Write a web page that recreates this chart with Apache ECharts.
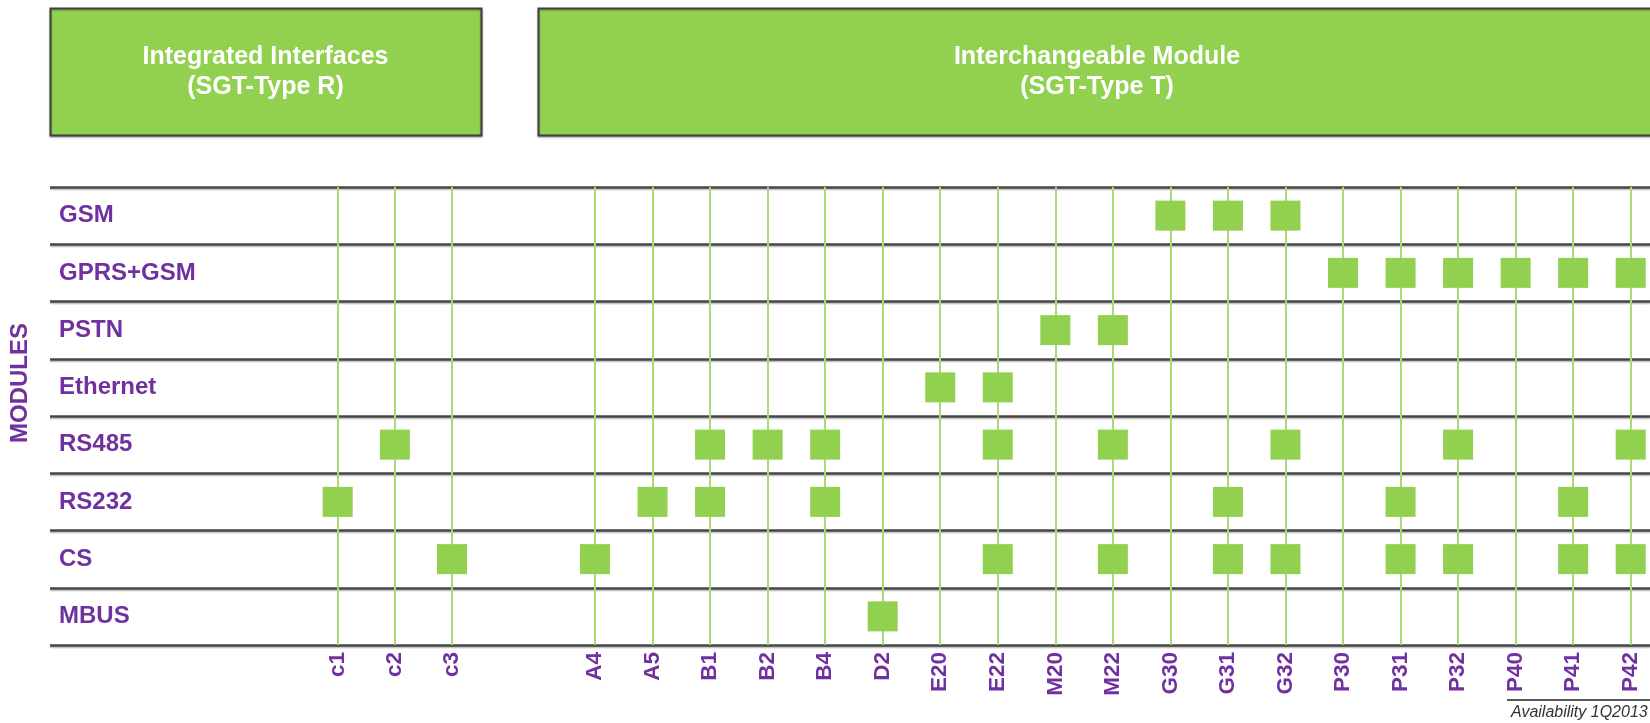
<!DOCTYPE html>
<html>
<head>
<meta charset="utf-8">
<title>SGT modules</title>
<script src="https://cdn.jsdelivr.net/npm/echarts@6/dist/echarts.min.js"></script>
<style>
  body { margin: 0; background: #fff; }
  #modules { width: 1650px; height: 723px; }
</style>
</head>
<body>
<div id="modules"></div>
<script>
// rows (top to bottom) and the two groups of device types
const rows = ['GSM', 'GPRS+GSM', 'PSTN', 'Ethernet', 'RS485', 'RS232', 'CS', 'MBUS'];
const integratedCols = ['c1', 'c2', 'c3'];
const moduleCols = ['A4', 'A5', 'B1', 'B2', 'B4', 'D2', 'E20', 'E22', 'M20', 'M22',
  'G30', 'G31', 'G32', 'P30', 'P31', 'P32', 'P40', 'P41', 'P42'];

// which types carry each module
const gsm = ['G30', 'G31', 'G32'];
const gprsGsm = ['P30', 'P31', 'P32', 'P40', 'P41', 'P42'];
const pstn = ['M20', 'M22'];
const ethernet = ['E20', 'E22'];
const rs485 = ['c2', 'B1', 'B2', 'B4', 'E22', 'M22', 'G32', 'P32', 'P42'];
const rs232 = ['c1', 'A5', 'B1', 'B4', 'G31', 'P31', 'P41'];
const cs = ['c3', 'A4', 'E22', 'M22', 'G31', 'G32', 'P31', 'P32', 'P41', 'P42'];
const mbus = ['D2'];

const support = [gsm, gprsGsm, pstn, ethernet, rs485, rs232, cs, mbus];

const PURPLE = '#7030A0';
const GREEN = '#92D050';
const FONT = "'Liberation Sans', Arial, sans-serif";

let integratedPts = [];
let modulePts = [];
support.forEach(function (list, i) {
  list.forEach(function (col) {
    if (integratedCols.indexOf(col) >= 0) {
      integratedPts.push([col, rows[i]]);
    } else {
      modulePts.push([col, rows[i]]);
    }
  });
});

let chart = echarts.init(document.getElementById('modules'));

function colAxis(gridIndex, cols) {
  return {
    type: 'category',
    gridIndex: gridIndex,
    data: cols,
    boundaryGap: false,
    position: 'bottom',
    axisLine: { show: false },
    axisTick: { show: false },
    axisLabel: {
      rotate: 90,
      margin: 7,
      color: PURPLE,
      fontSize: 22.5,
      fontWeight: 'bold',
      fontFamily: FONT
    },
    splitLine: {
      show: true,
      lineStyle: { color: '#a9da74', width: 2 }
    }
  };
}

function rowAxis(gridIndex) {
  return {
    type: 'category',
    gridIndex: gridIndex,
    data: rows,
    inverse: true,
    show: false
  };
}

let option = {
  animation: false,
  backgroundColor: '#fff',
  grid: [
    { left: 50, right: 0, top: 187, height: 458, outerBoundsMode: 'none', containLabel: false },
    { left: 337.7, width: 114.3, top: 187, height: 458, outerBoundsMode: 'none', containLabel: false },
    { left: 595, width: 1035.7, top: 187, height: 458, outerBoundsMode: 'none', containLabel: false }
  ],
  xAxis: [
    { type: 'value', gridIndex: 0, show: false, min: 0, max: 1 },
    colAxis(1, integratedCols),
    colAxis(2, moduleCols)
  ],
  yAxis: [
    {
      type: 'category',
      gridIndex: 0,
      data: rows,
      inverse: true,
      axisLine: { show: false },
      axisTick: { show: false },
      axisLabel: {
        inside: true,
        margin: 9,
        color: PURPLE,
        fontSize: 24,
        fontWeight: 'bold',
        fontFamily: FONT
      },
      splitLine: {
        show: true,
        lineStyle: {
          color: '#474747',
          width: 2.5,
          shadowColor: 'rgba(0,0,0,0.25)',
          shadowOffsetY: 1.5,
          shadowBlur: 1
        }
      }
    },
    rowAxis(1),
    rowAxis(2)
  ],
  series: [
    {
      name: 'Integrated',
      type: 'scatter',
      xAxisIndex: 1,
      yAxisIndex: 1,
      symbol: 'rect',
      symbolSize: [30, 30],
      itemStyle: { color: GREEN, opacity: 1 },
      data: integratedPts,
      z: 5
    },
    {
      name: 'Module',
      type: 'scatter',
      xAxisIndex: 2,
      yAxisIndex: 2,
      symbol: 'rect',
      symbolSize: [30, 30],
      itemStyle: { color: GREEN, opacity: 1 },
      data: modulePts,
      z: 5
    }
  ],
  graphic: [
    {
      type: 'rect',
      shape: { x: 50.5, y: 8.5, width: 431, height: 127 },
      style: {
        fill: GREEN, stroke: '#3f3f3f', lineWidth: 2,
        shadowColor: 'rgba(0,0,0,0.3)', shadowBlur: 2, shadowOffsetY: 1
      }
    },
    {
      type: 'rect',
      shape: { x: 538.5, y: 8.5, width: 1140, height: 127 },
      style: {
        fill: GREEN, stroke: '#3f3f3f', lineWidth: 2,
        shadowColor: 'rgba(0,0,0,0.3)', shadowBlur: 2, shadowOffsetY: 1
      }
    },
    {
      type: 'text',
      style: {
        x: 265.5, y: 72,
        text: 'Integrated Interfaces\n(SGT-Type R)',
        align: 'center', verticalAlign: 'middle',
        fill: '#fff', fontSize: 25, fontWeight: 'bold', fontFamily: FONT,
        lineHeight: 30
      }
    },
    {
      type: 'text',
      style: {
        x: 1097, y: 72,
        text: 'Interchangeable Module\n(SGT-Type T)',
        align: 'center', verticalAlign: 'middle',
        fill: '#fff', fontSize: 25, fontWeight: 'bold', fontFamily: FONT,
        lineHeight: 30
      }
    },
    {
      type: 'text',
      x: 20, y: 383,
      rotation: Math.PI / 2,
      style: {
        text: 'MODULES',
        align: 'center', verticalAlign: 'middle',
        fill: PURPLE, fontSize: 24, fontWeight: 'bold', fontFamily: FONT
      }
    },
    {
      type: 'line',
      shape: { x1: 1507, y1: 700, x2: 1660, y2: 700 },
      style: { stroke: '#222', lineWidth: 1.5 }
    },
    {
      type: 'text',
      style: {
        x: 1511, y: 713,
        text: 'Availability 1Q2013',
        align: 'left', verticalAlign: 'middle',
        fill: '#333', fontSize: 16, fontStyle: 'italic', fontFamily: FONT
      }
    }
  ]
};

option && chart.setOption(option);
</script>
</body>
</html>
